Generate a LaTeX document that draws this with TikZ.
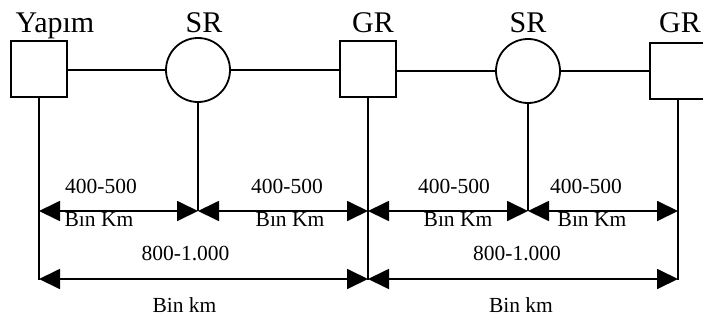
\documentclass[tikz,border=0pt]{standalone}
\usepackage{fontspec}
\setmainfont{Liberation Serif}
\usetikzlibrary{arrows.meta}
\begin{document}
\begin{tikzpicture}[x=1pt,y=-1pt, line width=1.8pt,
  sq/.style={draw, minimum size=56pt, inner sep=0pt},
  rc/.style={draw, circle, minimum size=64pt, inner sep=0pt},
  big/.style={font=\fontsize{30}{30}\selectfont, anchor=base, inner sep=0pt},
  small/.style={font=\fontsize{21.5}{21.5}\selectfont, anchor=base, inner sep=0pt},
  dim/.style={{Triangle[length=21pt,width=20pt]}-{Triangle[length=21pt,width=20pt]}}
]
\useasboundingbox (0,0) rectangle (703,321);
\clip (0,0) rectangle (703,321);
% nodes
\node[sq] (b1) at (39,69) {};
\node[rc] (c1) at (198,70) {};
\node[sq] (b2) at (368,69) {};
\node[rc] (c2) at (528,71) {};
\node[sq] (b3) at (678,71) {};
% top labels
\node[big] (t1) at (55,33) {Yapım};
\node[big] (t2) at (204,33) {SR};
\node[big] (t3) at (373,33) {GR};
\node[big] (t4) at (528,33) {SR};
\node[big] (t5) at (680,33) {GR};
% connections
\draw (b1.east |- c1.west) -- (c1.west);
\draw (c1.east) -- (b2.west |- c1.east);
\draw (b2.east |- c2.west) -- (c2.west);
\draw (c2.east) -- (b3.west);
% drop lines
\coordinate (v1) at (39,280);
\coordinate (v2) at (198,211);
\coordinate (v3) at (368,280);
\coordinate (v4) at (528,211);
\coordinate (v5) at (678,280);
\draw (b1.south) -- (v1);
\draw (c1.south) -- (v2);
\draw (b2.south) -- (v3);
\draw (c2.south) -- (v4);
\draw (b3.south) -- (v5);
% dimension rows
\coordinate (r1a) at (39,211);
\coordinate (r1b) at (198,211);
\coordinate (r1c) at (368,211);
\coordinate (r1d) at (528,211);
\coordinate (r1e) at (678,211);
\coordinate (r2a) at (39,279);
\coordinate (r2c) at (368,279);
\coordinate (r2e) at (678,279);
\draw[dim] (r1a) -- (r1b);
\draw[dim] (r1b) -- (r1c);
\draw[dim] (r1c) -- (r1d);
\draw[dim] (r1d) -- (r1e);
\draw[dim] (r2a) -- (r2c);
\draw[dim] (r2c) -- (r2e);
% labels
\node[small] (l1) at (101,193) {400-500};
\node[small] (l2) at (287,193) {400-500};
\node[small] (l3) at (454,193) {400-500};
\node[small] (l4) at (586,193) {400-500};
\node[small] (k1) at (99,226) {Bın Km};
\node[small] (k2) at (290,226) {Bın Km};
\node[small] (k3) at (458,226) {Bın Km};
\node[small] (k4) at (592,226) {Bın Km};
\node[small] (m1) at (185.5,260) {800-1.000};
\node[small] (m2) at (517,260) {800-1.000};
\node[small] (n1) at (184.5,312) {Bin km};
\node[small] (n2) at (521,312) {Bin km};
\end{tikzpicture}
\end{document}
